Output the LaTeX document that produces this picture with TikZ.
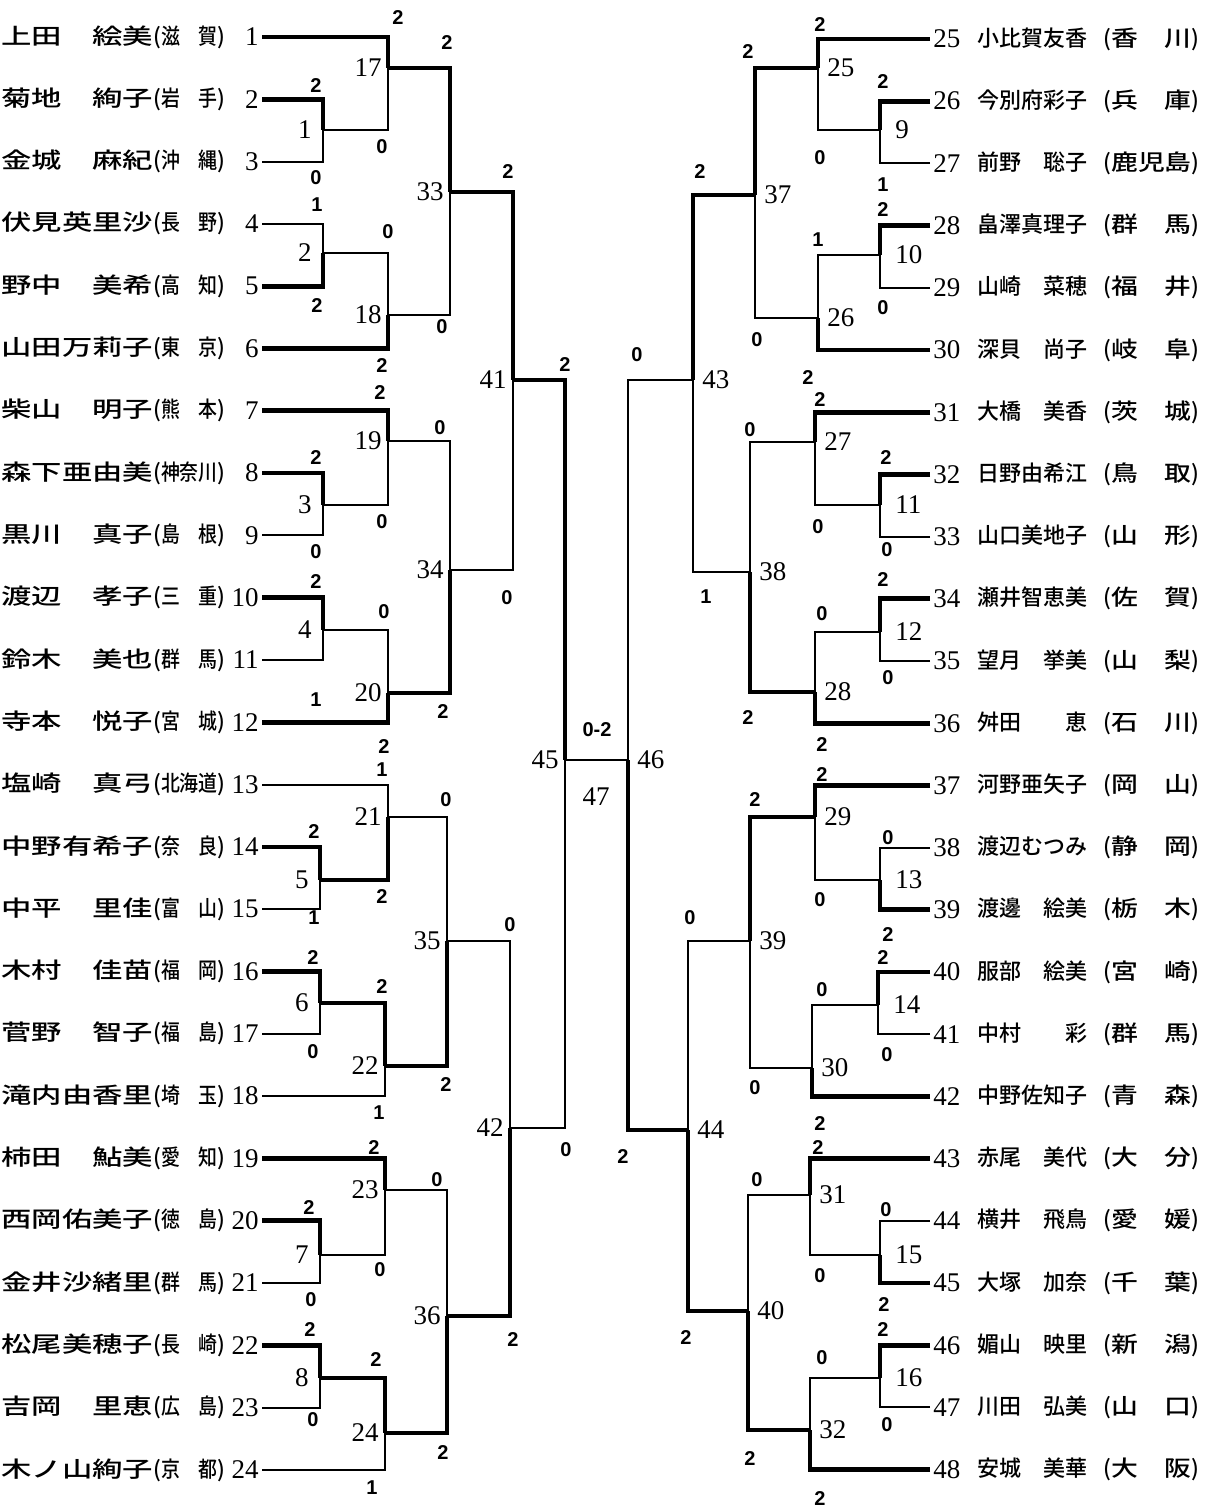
\documentclass[tikz,border=0pt]{standalone}
\usepackage{fontspec}
\usepackage{graphicx}
\setmainfont{Liberation Serif}
\setsansfont{Liberation Sans}
\newfontfamily\cjk{Noto Sans CJK JP}[UprightFont={* Medium}]
\usetikzlibrary{positioning}

% entrant text: name field and prefecture field
\newcommand\lent[2]{\scalebox{1.38}[1]{#1}(\scalebox{0.86}[1]{#2})}
\newcommand\rent[2]{#1\hspace{8pt}(\scalebox{1.22}[1]{#2})}

\tikzset{
  thin/.style={line width=1pt},
  win/.style={line width=2.4pt},
  num/.style={inner sep=1.5pt, font=\fontsize{13.5}{14}\selectfont},
  who/.style={inner sep=0pt, font=\cjk\fontsize{11}{12}\selectfont},
  mlabel/.style={inner sep=1.5pt, font=\fontsize{13.5}{14}\selectfont},
  score/.style={inner sep=0pt, font=\sffamily\bfseries\fontsize{10}{11}\selectfont},
}

\begin{document}
\begin{tikzpicture}[x=0.5pt, y=-0.5pt]
\useasboundingbox (0,0) rectangle (1207,1507);

% left entrants
\foreach \i/\nm/\pf in {1/上田　絵美/滋　賀, 2/菊地　絢子/岩　手, 3/金城　麻紀/沖　縄,
  4/伏見英里沙/長　野, 5/野中　美希/高　知, 6/山田万莉子/東　京,
  7/柴山　明子/熊　本, 8/森下亜由美/神奈川, 9/黒川　真子/島　根,
  10/渡辺　孝子/三　重, 11/鈴木　美也/群　馬, 12/寺本　悦子/宮　城,
  13/塩崎　真弓/北海道, 14/中野有希子/奈　良, 15/中平　里佳/富　山,
  16/木村　佳苗/福　岡, 17/菅野　智子/福　島, 18/滝内由香里/埼　玉,
  19/柿田　鮎美/愛　知, 20/西岡佑美子/徳　島, 21/金井沙緒里/群　馬,
  22/松尾美穂子/長　崎, 23/吉岡　里恵/広　島, 24/木ノ山絢子/京　都}{
  \pgfmathsetmacro\yy{37+(\i-1)*62.3}
  \node[num, anchor=east] (n\i) at (262,\yy) {\i};
  \node[who, anchor=west] (t\i) at (1,\yy) {\lent{\nm}{\pf}};
}

% right entrants
\foreach \i/\nm/\pf in {25/小比賀友香/香　川, 26/今別府彩子/兵　庫, 27/前野　聡子/鹿児島,
  28/畠澤真理子/群　馬, 29/山崎　菜穂/福　井, 30/深貝　尚子/岐　阜,
  31/大橋　美香/茨　城, 32/日野由希江/鳥　取, 33/山口美地子/山　形,
  34/瀬井智恵美/佐　賀, 35/望月　挙美/山　梨, 36/舛田　　恵/石　川,
  37/河野亜矢子/岡　山, 38/渡辺むつみ/静　岡, 39/渡邊　絵美/栃　木,
  40/服部　絵美/宮　崎, 41/中村　　彩/群　馬, 42/中野佐知子/青　森,
  43/赤尾　美代/大　分, 44/横井　飛鳥/愛　媛, 45/大塚　加奈/千　葉,
  46/媚山　映里/新　潟, 47/川田　弘美/山　口, 48/安城　美華/大　阪}{
  \pgfmathsetmacro\yy{39+(\i-25)*62.2}
  \node[num, anchor=west] (n\i) at (930,\yy) {\i};
  \node[who, anchor=west] (t\i) at (977,\yy) {\rent{\nm}{\pf}};
}

% match junctions, left half
\coordinate (m1) at (323,130);   \coordinate (m2) at (323,253);
\coordinate (m3) at (323,505);   \coordinate (m4) at (323,630);
\coordinate (m5) at (320,880);   \coordinate (m6) at (320,1003);
\coordinate (m7) at (320,1255);  \coordinate (m8) at (320,1378);
\coordinate (m17) at (388,68);   \coordinate (m18) at (388,315);
\coordinate (m19) at (388,441);  \coordinate (m20) at (388,693);
\coordinate (m21) at (388,817);  \coordinate (m22) at (385,1066);
\coordinate (m23) at (385,1190); \coordinate (m24) at (385,1433);
\coordinate (m33) at (450,192);  \coordinate (m34) at (450,570);
\coordinate (m35) at (447,941);  \coordinate (m36) at (447,1316);
\coordinate (m41) at (513,380);  \coordinate (m42) at (510,1128);
\coordinate (m45) at (565,760);
% match junctions, right half
\coordinate (m46) at (628,760);
\coordinate (m43) at (693,380);  \coordinate (m44) at (688,1130);
\coordinate (m37) at (755,195);  \coordinate (m38) at (750,572);
\coordinate (m39) at (750,941);  \coordinate (m40) at (748,1311);
\coordinate (m25) at (818,68);   \coordinate (m26) at (818,318);
\coordinate (m27) at (815,442);  \coordinate (m28) at (815,692);
\coordinate (m29) at (815,817);  \coordinate (m30) at (812,1068);
\coordinate (m31) at (810,1195); \coordinate (m32) at (810,1430);
\coordinate (m9) at (880,130);   \coordinate (m10) at (880,255);
\coordinate (m11) at (880,505);  \coordinate (m12) at (880,632);
\coordinate (m13) at (880,880);  \coordinate (m14) at (878,1005);
\coordinate (m15) at (880,1255); \coordinate (m16) at (880,1378);

% losers
\foreach \a/\b in {n3/m1, n4/m2, n9/m3, n11/m4, n15/m5, n17/m6, n21/m7, n23/m8,
  m1/m17, m2/m18, m3/m19, m4/m20, n13/m21, n18/m22, m7/m23, n24/m24,
  m18/m33, m19/m34, m21/m35, m23/m36, m34/m41, m35/m42, m42/m45,
  n27/m9, n29/m10, n33/m11, n35/m12, n38/m13, n41/m14, n44/m15, n47/m16,
  m9/m25, m10/m26, m11/m27, m12/m28, m13/m29, m14/m30, m15/m31, m16/m32,
  m26/m37, m27/m38, m30/m39, m31/m40, m38/m43, m39/m44, m43/m46}
  \draw[thin] (\a) -| (\b);
% winners
\foreach \a/\b in {n2/m1, n5/m2, n8/m3, n10/m4, n14/m5, n16/m6, n20/m7, n22/m8,
  n1/m17, n6/m18, n7/m19, n12/m20, m5/m21, m6/m22, n19/m23, m8/m24,
  m17/m33, m20/m34, m22/m35, m24/m36, m33/m41, m36/m42, m41/m45,
  n26/m9, n28/m10, n32/m11, n34/m12, n39/m13, n40/m14, n45/m15, n46/m16,
  n25/m25, n30/m26, n31/m27, n36/m28, n37/m29, n42/m30, n43/m31, n48/m32,
  m25/m37, m28/m38, m29/m39, m32/m40, m37/m43, m40/m44, m44/m46}
  \draw[win] (\a) -| (\b);
\draw[thin] (m45) -- (m46);

% match numbers
\foreach \k in {1,2,3,4,5,6,7,8}
  \node[mlabel, left=4pt of m\k] (l\k) {\k};
\foreach \k in {17,18,19,20,21,22,23,24,33,34,35,36,41,42,45}
  \node[mlabel, left=1.5pt of m\k] (l\k) {\k};
\foreach \k in {9,10,11,12,13,14,15,16}
  \node[mlabel, right=6pt of m\k] (l\k) {\k};
\foreach \k in {25,26,27,28,29,30,31,32,37,38,39,40,43,44,46}
  \node[mlabel, right=3pt of m\k] (l\k) {\k};
\node[mlabel] (l47) at (596,797) {47};

% scores
\foreach \x/\y/\s [count=\k] in {398/18/2, 316/86/2, 316/178/0, 382/147/0, 447/43/2,
  317/205/1, 317/306/2, 388/232/0, 382/366/2, 442/327/0, 508/172/2,
  380/393/2, 316/458/2, 316/552/0, 382/522/0, 440/428/0,
  316/582/2, 316/700/1, 384/612/0, 384/747/2, 443/712/2, 507/598/0, 565/365/2,
  382/770/1, 314/832/2, 314/918/1, 382/897/2, 446/800/0,
  313/958/2, 313/1052/0, 382/987/2, 379/1113/1, 446/1085/2, 510/925/0,
  374/1148/2, 309/1208/2, 311/1300/0, 380/1270/0, 437/1180/0,
  310/1330/2, 313/1420/0, 376/1360/2, 372/1488/1, 443/1452/2, 513/1340/2, 566/1150/0,
  597/730/0-2,
  637/355/0, 623/1157/2, 700/172/2, 706/597/1, 748/52/2, 757/340/0,
  820/25/2, 820/158/0, 883/82/2, 883/185/1, 883/210/2, 883/308/0, 818/240/1, 808/378/2,
  750/430/0, 748/718/2, 820/400/2, 886/458/2, 887/550/0, 818/527/0,
  883/580/2, 888/678/0, 822/614/0, 822/745/2,
  690/918/0, 686/1338/2, 755/800/2, 755/1088/0, 822/775/2, 888/838/0, 888/935/2, 820/900/0,
  822/990/0, 883/958/2, 887/1055/0, 820/1124/2,
  757/1180/0, 750/1458/2, 818/1148/2, 886/1210/0, 884/1305/2, 820/1276/0,
  822/1358/0, 883/1330/2, 887/1425/0, 820/1498/2}
  \node[score] (s\k) at (\x,\y) {\s};
\end{tikzpicture}
\end{document}
